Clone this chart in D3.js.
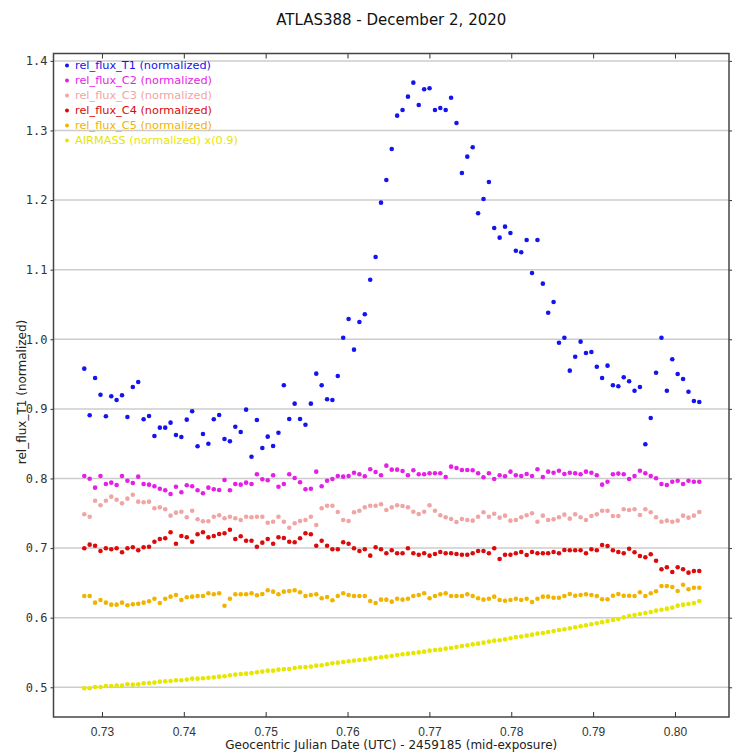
<!DOCTYPE html>
<html>
<head>
<meta charset="utf-8">
<script src="https://cdn.jsdelivr.net/npm/d3@7"></script>
<style>
  body { margin: 0; background: #fff; }
  svg { display: block; font-family: "DejaVu Sans", sans-serif; }
</style>
</head>
<body>
<div id="chart"></div>
<script>
// 観測時刻 (JD - 2459185)
const times = [
  0.72784, 0.72850, 0.72916, 0.72982, 0.73048, 0.73114, 0.73179, 0.73245, 0.73311, 0.73377,
  0.73443, 0.73509, 0.73575, 0.73641, 0.73707, 0.73773, 0.73838, 0.73904, 0.73970, 0.74036,
  0.74102, 0.74168, 0.74234, 0.74300, 0.74366, 0.74432, 0.74497, 0.74563, 0.74629, 0.74695,
  0.74761, 0.74827, 0.74893, 0.74959, 0.75025, 0.75091, 0.75156, 0.75222, 0.75288, 0.75354,
  0.75420, 0.75486, 0.75552, 0.75618, 0.75684, 0.75750, 0.75815, 0.75881, 0.75947, 0.76013,
  0.76079, 0.76145, 0.76211, 0.76277, 0.76343, 0.76409, 0.76474, 0.76540, 0.76606, 0.76672,
  0.76738, 0.76804, 0.76870, 0.76936, 0.77002, 0.77068, 0.77133, 0.77199, 0.77265, 0.77331,
  0.77397, 0.77463, 0.77529, 0.77595, 0.77661, 0.77727, 0.77792, 0.77858, 0.77924, 0.77990,
  0.78056, 0.78122, 0.78188, 0.78254, 0.78320, 0.78386, 0.78451, 0.78517, 0.78583, 0.78649,
  0.78715, 0.78781, 0.78847, 0.78913, 0.78979, 0.79045, 0.79110, 0.79176, 0.79242, 0.79308,
  0.79374, 0.79440, 0.79506, 0.79572, 0.79638, 0.79704, 0.79769, 0.79835, 0.79901, 0.79967,
  0.80033, 0.80099, 0.80165, 0.80231, 0.80297
];

const fluxT1 = [
  0.9578, 0.8908, 0.9444, 0.9204, 0.8894, 0.9181, 0.9128, 0.9195, 0.8884, 0.9315,
  0.9386, 0.8851, 0.8898, 0.8611, 0.8730, 0.8730, 0.8802, 0.8625, 0.8596, 0.8845,
  0.8966, 0.8463, 0.8639, 0.8500, 0.8851, 0.8912, 0.8568, 0.8534, 0.8744, 0.8668,
  0.8989, 0.8313, 0.8840, 0.8438, 0.8601, 0.8467, 0.8658, 0.9339, 0.8855, 0.9075,
  0.8855, 0.8773, 0.9075, 0.9506, 0.9339, 0.9138, 0.9128, 0.9473, 1.0023, 1.0292,
  0.9851, 1.0249, 1.0359, 1.0856, 1.1183, 1.1963, 1.2289, 1.2734, 1.3213, 1.3294,
  1.3486, 1.3687, 1.3366, 1.3592, 1.3606, 1.3294, 1.3323, 1.3294, 1.3471, 1.3108,
  1.2389, 1.2624, 1.2759, 1.1810, 1.2016, 1.2260, 1.1599, 1.1460, 1.1618, 1.1527,
  1.1273, 1.1250, 1.1427, 1.0953, 1.1427, 1.0799, 1.0382, 1.0536, 0.9951, 1.0023,
  0.9549, 0.9750, 0.9966, 0.9803, 0.9818, 0.9606, 0.9444, 0.9621, 0.9339, 0.9325,
  0.9454, 0.9397, 0.9261, 0.9315, 0.8491, 0.8869, 0.9520, 1.0023, 0.9261, 0.9713,
  0.9501, 0.9430, 0.9247, 0.9114, 0.9099
];

const fluxC2 = [
  0.8036, 0.7997, 0.7868, 0.8036, 0.7921, 0.7940, 0.7907, 0.8036, 0.7968, 0.7935,
  0.8026, 0.7921, 0.7911, 0.7888, 0.7853, 0.7830, 0.7777, 0.7882, 0.7802, 0.7902,
  0.7888, 0.7830, 0.7787, 0.7868, 0.7845, 0.7835, 0.7978, 0.7830, 0.7921, 0.7911,
  0.7940, 0.7921, 0.8060, 0.7989, 0.7974, 0.8046, 0.7882, 0.7921, 0.8060, 0.8007,
  0.7945, 0.7845, 0.7853, 0.8098, 0.7888, 0.7968, 0.7993, 0.8036, 0.8026, 0.8036,
  0.8083, 0.8060, 0.8031, 0.8132, 0.8093, 0.8046, 0.8184, 0.8127, 0.8127, 0.8108,
  0.8046, 0.8118, 0.8060, 0.8060, 0.8075, 0.8075, 0.8075, 0.8022, 0.8170, 0.8151,
  0.8122, 0.8122, 0.8118, 0.8075, 0.8017, 0.8075, 0.7993, 0.8046, 0.8031, 0.8098,
  0.8046, 0.8036, 0.8065, 0.8036, 0.8132, 0.8022, 0.8098, 0.8083, 0.8112, 0.8065,
  0.8083, 0.8075, 0.8060, 0.8098, 0.8083, 0.8046, 0.7911, 0.7954, 0.8060, 0.8070,
  0.8060, 0.7993, 0.8036, 0.8112, 0.8075, 0.8036, 0.8003, 0.7921, 0.7907, 0.7954,
  0.7968, 0.7921, 0.7968, 0.7954, 0.7954
];

const fluxC3 = [
  0.7486, 0.7451, 0.7681, 0.7615, 0.7681, 0.7739, 0.7695, 0.7644, 0.7710, 0.7767,
  0.7667, 0.7658, 0.7667, 0.7572, 0.7586, 0.7557, 0.7466, 0.7509, 0.7523, 0.7443,
  0.7537, 0.7414, 0.7385, 0.7385, 0.7451, 0.7471, 0.7428, 0.7451, 0.7428, 0.7404,
  0.7451, 0.7443, 0.7451, 0.7451, 0.7365, 0.7379, 0.7451, 0.7379, 0.7293, 0.7356,
  0.7389, 0.7404, 0.7451, 0.7332, 0.7572, 0.7609, 0.7609, 0.7519, 0.7404, 0.7389,
  0.7514, 0.7537, 0.7586, 0.7609, 0.7609, 0.7629, 0.7547, 0.7586, 0.7615, 0.7605,
  0.7586, 0.7523, 0.7490, 0.7523, 0.7615, 0.7537, 0.7471, 0.7443, 0.7418, 0.7375,
  0.7418, 0.7404, 0.7394, 0.7451, 0.7514, 0.7451, 0.7494, 0.7437, 0.7466, 0.7394,
  0.7404, 0.7443, 0.7471, 0.7500, 0.7379, 0.7466, 0.7404, 0.7414, 0.7443, 0.7480,
  0.7423, 0.7486, 0.7443, 0.7404, 0.7461, 0.7486, 0.7537, 0.7537, 0.7461, 0.7461,
  0.7557, 0.7547, 0.7557, 0.7476, 0.7557, 0.7514, 0.7443, 0.7379, 0.7394, 0.7379,
  0.7394, 0.7466, 0.7437, 0.7466, 0.7519
];

const fluxC4 = [
  0.6997, 0.7049, 0.7034, 0.6958, 0.6997, 0.6983, 0.6997, 0.6940, 0.6997, 0.7011,
  0.6968, 0.7011, 0.7020, 0.7092, 0.7131, 0.7141, 0.7227, 0.7063, 0.7174, 0.7155,
  0.7092, 0.7198, 0.7227, 0.7155, 0.7174, 0.7203, 0.7213, 0.7264, 0.7131, 0.7170,
  0.7106, 0.7106, 0.7020, 0.7078, 0.7131, 0.7063, 0.7155, 0.7145, 0.7092, 0.7083,
  0.7141, 0.7213, 0.7198, 0.7034, 0.7106, 0.7034, 0.6983, 0.6983, 0.7083, 0.7063,
  0.6997, 0.6958, 0.6983, 0.6891, 0.7011, 0.6983, 0.6925, 0.6968, 0.6925, 0.6925,
  0.6997, 0.6925, 0.6905, 0.6925, 0.6891, 0.6915, 0.6944, 0.6925, 0.6925, 0.6915,
  0.6905, 0.6905, 0.6925, 0.6958, 0.6958, 0.6925, 0.6997, 0.6843, 0.6905, 0.6905,
  0.6925, 0.6944, 0.6901, 0.6944, 0.6925, 0.6925, 0.6925, 0.6944, 0.6925, 0.6973,
  0.6968, 0.6968, 0.6968, 0.6925, 0.6983, 0.6968, 0.7045, 0.7030, 0.6968, 0.6944,
  0.6925, 0.6991, 0.6940, 0.6887, 0.6868, 0.6911, 0.6819, 0.6695, 0.6724, 0.6657,
  0.6724, 0.6695, 0.6647, 0.6671, 0.6671
];

const fluxC5 = [
  0.6312, 0.6312, 0.6216, 0.6254, 0.6216, 0.6187, 0.6187, 0.6216, 0.6178, 0.6193,
  0.6201, 0.6216, 0.6236, 0.6273, 0.6211, 0.6273, 0.6302, 0.6326, 0.6254, 0.6293,
  0.6302, 0.6312, 0.6312, 0.6351, 0.6336, 0.6351, 0.6172, 0.6273, 0.6336, 0.6336,
  0.6336, 0.6351, 0.6322, 0.6341, 0.6394, 0.6374, 0.6336, 0.6374, 0.6384, 0.6394,
  0.6365, 0.6312, 0.6326, 0.6336, 0.6279, 0.6297, 0.6250, 0.6312, 0.6351, 0.6326,
  0.6312, 0.6312, 0.6312, 0.6240, 0.6211, 0.6259, 0.6259, 0.6230, 0.6273, 0.6259,
  0.6273, 0.6312, 0.6326, 0.6351, 0.6279, 0.6312, 0.6336, 0.6351, 0.6312, 0.6312,
  0.6312, 0.6336, 0.6312, 0.6279, 0.6259, 0.6273, 0.6302, 0.6254, 0.6244, 0.6254,
  0.6273, 0.6254, 0.6273, 0.6226, 0.6273, 0.6302, 0.6302, 0.6287, 0.6287, 0.6312,
  0.6341, 0.6316, 0.6326, 0.6336, 0.6326, 0.6312, 0.6264, 0.6264, 0.6316, 0.6341,
  0.6316, 0.6316, 0.6312, 0.6365, 0.6312, 0.6351, 0.6379, 0.6455, 0.6455, 0.6441,
  0.6384, 0.6474, 0.6408, 0.6431, 0.6431
];

const airmass = [
  0.4985, 0.4985, 0.5004, 0.5004, 0.5019, 0.5019, 0.5024, 0.5024, 0.5043, 0.5038,
  0.5043, 0.5057, 0.5062, 0.5067, 0.5081, 0.5086, 0.5091, 0.5100, 0.5100, 0.5110,
  0.5124, 0.5124, 0.5129, 0.5138, 0.5143, 0.5153, 0.5158, 0.5172, 0.5182, 0.5191,
  0.5196, 0.5206, 0.5215, 0.5225, 0.5239, 0.5239, 0.5253, 0.5258, 0.5263, 0.5277,
  0.5287, 0.5292, 0.5297, 0.5311, 0.5316, 0.5330, 0.5345, 0.5354, 0.5364, 0.5373,
  0.5383, 0.5392, 0.5397, 0.5411, 0.5421, 0.5431, 0.5440, 0.5450, 0.5464, 0.5474,
  0.5483, 0.5493, 0.5502, 0.5512, 0.5526, 0.5536, 0.5541, 0.5555, 0.5565, 0.5579,
  0.5593, 0.5603, 0.5617, 0.5627, 0.5641, 0.5656, 0.5670, 0.5675, 0.5689, 0.5704,
  0.5723, 0.5728, 0.5742, 0.5756, 0.5771, 0.5780, 0.5795, 0.5809, 0.5823, 0.5833,
  0.5847, 0.5862, 0.5876, 0.5891, 0.5905, 0.5920, 0.5936, 0.5952, 0.5967, 0.5981,
  0.6005, 0.6024, 0.6039, 0.6053, 0.6067, 0.6082, 0.6101, 0.6115, 0.6130, 0.6144,
  0.6173, 0.6187, 0.6197, 0.6211, 0.6240
];

const seriesNames = [
  'rel_flux_T1 (normalized)', 'rel_flux_C2 (normalized)', 'rel_flux_C3 (normalized)',
  'rel_flux_C4 (normalized)', 'rel_flux_C5 (normalized)', 'AIRMASS (normalized) x(0.9)'
];
const seriesColors = ['#1414f0', '#e61ee6', '#f0a5a5', '#dc0a0a', '#f0b400', '#e6e600'];
const xTicks = [0.73, 0.74, 0.75, 0.76, 0.77, 0.78, 0.79, 0.80];
const yTicks = [0.5, 0.6, 0.7, 0.8, 0.9, 1.0, 1.1, 1.2, 1.3, 1.4];

const W = 733, H = 754;
const plot = { left: 53.5, right: 729, top: 53.5, bottom: 717 };

const svg = d3.select('#chart').append('svg')
  .attr('width', W).attr('height', H);

const x = d3.scaleLinear().domain([0.72408, 0.80660]).range([plot.left, plot.right]);
const y = d3.scaleLinear().domain([0.4573, 1.4106]).range([plot.bottom, plot.top]);

// タイトル
svg.append('text')
  .attr('x', (plot.left + plot.right) / 2).attr('y', 25)
  .attr('text-anchor', 'middle')
  .style('font-size', '15px').attr('fill', '#111')
  .text('ATLAS388 - December 2, 2020');

// 横グリッド
svg.append('g')
  .selectAll('line').data(yTicks).join('line')
  .attr('x1', plot.left).attr('x2', plot.right)
  .attr('y1', d => y(d)).attr('y2', d => y(d))
  .attr('stroke', '#cccccc').attr('stroke-width', 1.5);

// 軸
const axisBottom = svg.append('g')
  .attr('transform', `translate(0,${plot.bottom})`)
  .call(d3.axisBottom(x).tickValues(xTicks).tickFormat(d3.format('.2f')).tickSizeInner(-5).tickSizeOuter(0).tickPadding(10));
const axisTop = svg.append('g')
  .attr('transform', `translate(0,${plot.top})`)
  .call(d3.axisTop(x).tickValues(xTicks).tickFormat('').tickSizeInner(-5).tickSizeOuter(0));
const axisLeft = svg.append('g')
  .attr('transform', `translate(${plot.left},0)`)
  .call(d3.axisLeft(y).tickValues(yTicks).tickFormat(d3.format('.1f')).tickSizeInner(3).tickSizeOuter(0).tickPadding(3));
const axisRight = svg.append('g')
  .attr('transform', `translate(${plot.right},0)`)
  .call(d3.axisRight(y).tickValues(yTicks).tickFormat('').tickSizeInner(3).tickSizeOuter(0));

[axisBottom, axisTop, axisLeft, axisRight].forEach(g => {
  g.select('.domain').remove();
  g.selectAll('line').attr('stroke', '#333');
});
axisBottom.selectAll('text').style('font-size', '12px').attr('fill', '#333');
axisLeft.selectAll('text').style('font-family', '"DejaVu Sans Mono", monospace')
  .style('font-size', '12px').attr('fill', '#333');

// 枠
svg.append('rect')
  .attr('x', plot.left).attr('y', plot.top)
  .attr('width', plot.right - plot.left).attr('height', plot.bottom - plot.top)
  .attr('fill', 'none').attr('stroke', '#444').attr('stroke-width', 1.5);

// 軸ラベル
svg.append('text')
  .attr('x', (plot.left + plot.right) / 2).attr('y', 749)
  .attr('text-anchor', 'middle').style('font-size', '12px').attr('fill', '#222')
  .text('Geocentric Julian Date (UTC) - 2459185 (mid-exposure)');
svg.append('text')
  .attr('transform', 'translate(26,392) rotate(-90)')
  .attr('text-anchor', 'middle').style('font-size', '12px').attr('fill', '#222')
  .text('rel_flux_T1 (normalized)');

// データ点（下から順に描画）
const allSeries = [fluxT1, fluxC2, fluxC3, fluxC4, fluxC5, airmass];
const dots = svg.append('g');
for (let s = allSeries.length - 1; s >= 0; s--) {
  dots.append('g').selectAll('circle')
    .data(allSeries[s].map((v, i) => ({ t: times[i], v: v })))
    .join('circle')
    .attr('cx', d => x(d.t)).attr('cy', d => y(d.v))
    .attr('r', 2.3)
    .attr('fill', seriesColors[s]);
}

// 凡例
const legend = svg.append('g').attr('transform', 'translate(67,65.5)');
seriesNames.forEach((name, i) => {
  const row = legend.append('g').attr('transform', `translate(0,${i * 15})`);
  row.append('circle').attr('r', 2).attr('fill', seriesColors[i]);
  row.append('text').attr('x', 8).attr('dy', '0.35em')
    .style('font-size', '11.3px').attr('fill', seriesColors[i])
    .text(name);
});
</script>
</body>
</html>
